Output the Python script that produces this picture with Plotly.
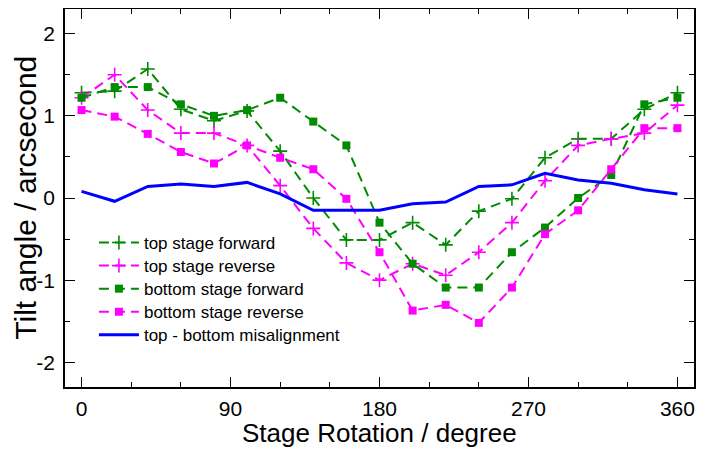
import plotly.graph_objects as go

# stage rotation angles (degree)
angle = [0, 20, 40, 60, 80, 100, 120, 140, 160, 180, 200, 220, 240, 260, 280, 300, 320, 340, 360]

top_forward = [1.28, 1.30, 1.57, 1.08, 0.94, 1.06, 0.57, 0.00, -0.51, -0.51, -0.30, -0.57, -0.16, -0.01, 0.49, 0.72, 0.72, 1.08, 1.28]
top_reverse = [1.22, 1.50, 1.07, 0.79, 0.79, 0.64, 0.15, -0.37, -0.79, -1.00, -0.80, -0.94, -0.66, -0.30, 0.21, 0.64, 0.72, 0.79, 1.13]
bottom_forward = [1.22, 1.35, 1.35, 1.14, 1.00, 1.07, 1.22, 0.93, 0.64, -0.30, -0.80, -1.09, -1.09, -0.66, -0.36, 0.00, 0.28, 1.14, 1.22]
bottom_reverse = [1.07, 0.99, 0.78, 0.56, 0.42, 0.64, 0.49, 0.35, -0.01, -0.66, -1.37, -1.30, -1.52, -1.09, -0.44, -0.15, 0.35, 0.85, 0.85]
misalignment = [0.08, -0.04, 0.14, 0.17, 0.14, 0.19, 0.05, -0.15, -0.15, -0.15, -0.07, -0.05, 0.14, 0.16, 0.30, 0.22, 0.18, 0.10, 0.05]

x_ticks = [0, 90, 180, 270, 360]
y_ticks = [-2, -1, 0, 1, 2]
y_ticktext = ["-2", "-1", "0", "1", "2"]

green = "rgb(0,139,0)"
magenta = "rgb(255,0,255)"
blue = "rgb(0,0,255)"
dashes = "10px,6px"

fig = go.Figure()
fig.add_trace(go.Scatter(x=angle, y=top_forward, name="top stage forward", mode="lines+markers",
                         line=dict(color=green, dash=dashes, width=2), legend="legend",
                         marker=dict(symbol="cross-thin", size=10, line=dict(color=green, width=1.6))))
fig.add_trace(go.Scatter(x=angle, y=top_reverse, name="top stage reverse", mode="lines+markers",
                         line=dict(color=magenta, dash=dashes, width=2), legend="legend2",
                         marker=dict(symbol="cross-thin", size=10, line=dict(color=magenta, width=1.6))))
fig.add_trace(go.Scatter(x=angle, y=bottom_forward, name="bottom stage forward", mode="lines+markers",
                         line=dict(color=green, dash=dashes, width=2), legend="legend3",
                         marker=dict(symbol="square", size=8, color=green)))
fig.add_trace(go.Scatter(x=angle, y=bottom_reverse, name="bottom stage reverse", mode="lines+markers",
                         line=dict(color=magenta, dash=dashes, width=2), legend="legend4",
                         marker=dict(symbol="square", size=8, color=magenta)))
fig.add_trace(go.Scatter(x=angle, y=misalignment, name="top - bottom misalignment", mode="lines",
                         line=dict(color=blue, width=3), legend="legend5"))

axis_style = dict(showline=True, linecolor="black", linewidth=1.5, mirror="allticks",
                  ticks="inside", ticklen=10, tickwidth=1, tickcolor="black",
                  showgrid=False, zeroline=False, automargin=False,
                  tickfont=dict(size=21, color="black"))

fig.update_xaxes(range=[-10, 370], tickvals=x_ticks, ticklabelstandoff=2,
                 minor=dict(dtick=30, ticks="inside", ticklen=5, tickcolor="black", showgrid=False),
                 **axis_style)
fig.update_yaxes(range=[-2.3, 2.3], tickvals=y_ticks, ticktext=y_ticktext, ticklabelstandoff=4,
                 minor=dict(dtick=0.5, ticks="inside", ticklen=5, tickcolor="black", showgrid=False),
                 **axis_style)

# axis titles as annotations for exact placement
fig.add_annotation(text="Stage Rotation / degree", xref="paper", yref="paper", x=0.5, y=-0.122,
                   xanchor="center", yanchor="middle", showarrow=False, font=dict(size=26, color="black"))
fig.add_annotation(text="Tilt angle / arcsecond", xref="paper", yref="paper", x=-0.064, y=0.5, textangle=-90,
                   xanchor="center", yanchor="middle", showarrow=False, font=dict(size=30, color="black"))

# one legend per row to match the tighter row spacing of the reference
row_y = [0.381, 0.320, 0.259, 0.198, 0.137]
legend_style = dict(x=0.046, xanchor="left", yanchor="middle", bgcolor="rgba(0,0,0,0)",
                    font=dict(size=17), itemwidth=40, borderwidth=0)

fig.update_layout(
    width=698, height=443,
    margin=dict(l=57, r=12, t=1, b=64),
    plot_bgcolor="white", paper_bgcolor="white",
    font=dict(family="Liberation Sans, Arial, sans-serif", color="black"),
    legend=dict(y=row_y[0], **legend_style),
    legend2=dict(y=row_y[1], **legend_style),
    legend3=dict(y=row_y[2], **legend_style),
    legend4=dict(y=row_y[3], **legend_style),
    legend5=dict(y=row_y[4], **legend_style),
    showlegend=True,
)

fig.write_html("out.html")
